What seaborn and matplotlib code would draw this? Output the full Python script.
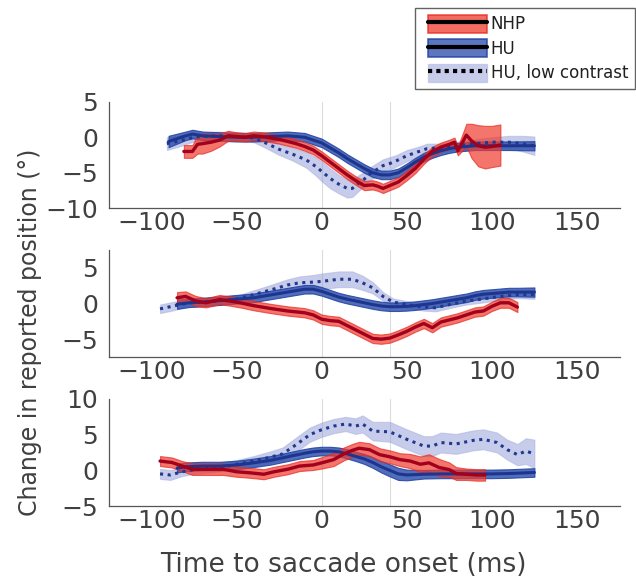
import numpy as np
import matplotlib
matplotlib.use("Agg")
import matplotlib.pyplot as plt
import matplotlib.patches as mpatches
import matplotlib.lines as mlines
from matplotlib.legend_handler import HandlerTuple
import seaborn as sns

# ---------------- data ----------------
x_ticks = [-100, -50, 0, 50, 100, 150]
series_labels = ["NHP", "HU", "HU, low contrast"]
xlabel = "Time to saccade onset (ms)"
ylabel = "Change in reported position (°)"

# Panel 1
t1_hu = [-90, -85, -80, -76, -70, -60, -50, -40, -30, -20, -10, 0, 5, 10, 15, 20, 25, 30, 35, 40,
         45, 50, 55, 60, 65, 70, 75, 80, 90, 100, 110, 125]
m1_hu = [-0.6, -0.2, 0.2, 0.45, 0.2, 0.1, 0.0, 0.0, 0.1, 0.2, 0.0, -0.8, -1.5, -2.2, -3.0, -3.7, -4.4,
         -5.0, -5.3, -5.3, -5.0, -4.3, -3.5, -2.8, -2.3, -1.9, -1.6, -1.4, -1.2, -1.2, -1.2, -1.2]
e1_hu = [0.8, 0.7, 0.6, 0.6, 0.6, 0.6, 0.6, 0.6, 0.6, 0.6, 0.6, 0.6, 0.6, 0.6, 0.6, 0.6, 0.6, 0.6,
         0.6, 0.6, 0.6, 0.6, 0.6, 0.6, 0.6, 0.6, 0.6, 0.6, 0.6, 0.6, 0.6, 0.65]

t1_nhp = [-81, -76, -73, -70, -65, -60, -55, -50, -45, -40, -35, -30, -25, -20, -15, -10, -5, 0, 5,
          10, 15, 20, 25, 30, 33, 36, 40, 45, 50, 55, 60, 65, 70, 75, 78, 80, 83, 85, 88, 92, 96, 100, 105]
m1_nhp = [-2.0, -2.0, -1.0, -0.9, -0.7, -0.4, 0.2, 0.1, 0.0, 0.2, 0.1, -0.1, -0.3, -0.6, -0.9, -1.3,
          -1.8, -2.6, -3.5, -4.4, -5.3, -6.1, -6.8, -6.7, -6.9, -7.2, -6.8, -6.3, -5.4, -4.4, -3.1,
          -2.0, -1.4, -1.0, -0.7, -1.9, -0.6, 0.3, -0.5, -1.2, -1.4, -1.3, -1.1]
e1_nhp = [0.9, 0.9, 1.3, 1.4, 1.2, 0.9, 0.7, 0.6, 0.6, 0.6, 0.6, 0.6, 0.6, 0.6, 0.6, 0.6, 0.6, 0.6,
          0.6, 0.6, 0.6, 0.6, 0.65, 0.65, 0.65, 0.65, 0.65, 0.65, 0.65, 0.65, 0.65, 0.65, 0.65, 0.65,
          0.65, 0.65, 1.2, 1.6, 2.4, 2.9, 3.0, 2.9, 2.9]

t1_lc = [-91, -85, -80, -75, -70, -60, -50, -40, -33, -25, -17, -9, -3, 0, 5, 10, 15, 18, 22, 25,
         28, 32, 36, 40, 44, 50, 56, 62, 70, 80, 90, 100, 110, 118, 125]
m1_lc = [-0.9, -0.6, -0.3, 0.0, 0.1, 0.2, 0.1, -0.1, -0.8, -1.7, -2.4, -3.2, -4.2, -4.8, -5.8, -6.6,
         -7.2, -7.2, -6.4, -5.9, -5.2, -4.6, -4.0, -3.7, -3.3, -2.6, -2.1, -1.6, -1.5, -1.2, -0.9,
         -0.7, -0.7, -0.9, -1.2]
e1_lc = [0.9, 0.8, 0.7, 0.6, 0.6, 0.6, 0.6, 0.6, 0.7, 0.8, 0.9, 1.1, 1.3, 1.4, 1.4, 1.3, 1.3, 1.2,
         1.1, 1.0, 0.9, 0.9, 0.9, 0.9, 0.8, 0.8, 0.7, 0.7, 0.6, 0.6, 0.6, 0.7, 0.9, 1.1, 1.3]

# Panel 2
t2_hu = [-85, -78, -70, -60, -50, -40, -30, -20, -10, -5, 0, 5, 10, 15, 20, 25, 30, 35, 40, 45, 50,
         55, 60, 65, 70, 75, 80, 85, 90, 95, 100, 105, 110, 115, 125]
m2_hu = [-0.1, 0.1, 0.2, 0.4, 0.6, 0.8, 1.2, 1.6, 2.0, 2.0, 1.7, 1.3, 0.9, 0.6, 0.35, 0.1, -0.15,
         -0.35, -0.45, -0.45, -0.4, -0.3, -0.15, 0.0, 0.2, 0.4, 0.6, 0.8, 1.1, 1.3, 1.4, 1.5, 1.6,
         1.6, 1.6]
e2_hu = [0.65, 0.6, 0.6, 0.6, 0.6, 0.6, 0.6, 0.6, 0.6, 0.6, 0.6, 0.6, 0.6, 0.6, 0.6, 0.6, 0.6, 0.6,
         0.6, 0.6, 0.6, 0.6, 0.6, 0.6, 0.6, 0.6, 0.6, 0.6, 0.6, 0.6, 0.6, 0.6, 0.6, 0.6, 0.65]

t2_nhp = [-85, -80, -74, -68, -60, -54, -48, -40, -30, -20, -10, -5, 0, 5, 10, 15, 20, 25, 30, 35,
          40, 45, 50, 55, 60, 65, 70, 75, 80, 85, 90, 95, 100, 105, 110, 115]
m2_nhp = [0.8, 1.0, 0.35, 0.1, 0.55, 0.35, 0.1, -0.3, -0.7, -1.05, -1.3, -1.6, -2.2, -2.4, -2.5,
          -3.1, -3.7, -4.3, -4.9, -5.0, -4.85, -4.4, -3.9, -3.3, -2.8, -3.4, -2.6, -2.3, -2.0, -1.6,
          -1.2, -1.05, -0.4, 0.1, 0.1, -0.5]
e2_nhp = [0.8, 0.7, 0.7, 0.65, 0.65, 0.65, 0.65, 0.65, 0.65, 0.65, 0.65, 0.65, 0.65, 0.65, 0.65,
          0.65, 0.65, 0.65, 0.65, 0.65, 0.65, 0.65, 0.65, 0.65, 0.65, 0.65, 0.65, 0.65, 0.65, 0.65,
          0.65, 0.65, 0.65, 0.7, 0.7, 0.7]

t2_lc = [-95, -88, -78, -70, -60, -50, -40, -30, -20, -13, -5, 0, 10, 18, 24, 30, 36, 42, 50, 60,
         67, 75, 85, 95, 105, 115, 125]
m2_lc = [-0.75, -0.4, 0.1, 0.2, 0.4, 0.6, 1.25, 1.9, 2.6, 2.9, 3.0, 3.1, 3.4, 3.4, 2.9, 2.2, 1.0,
         0.2, -0.15, -0.5, -0.6, -0.15, 0.35, 0.65, 1.0, 1.25, 1.25]
e2_lc = [0.6, 0.6, 0.5, 0.5, 0.5, 0.5, 0.6, 0.7, 0.8, 0.9, 1.0, 1.1, 1.1, 1.1, 1.0, 0.8, 0.6, 0.5,
         0.5, 0.5, 0.5, 0.5, 0.5, 0.5, 0.5, 0.5, 0.6]

# Panel 3
t3_hu = [-85, -80, -70, -60, -50, -40, -30, -20, -10, -5, 0, 5, 10, 15, 20, 25, 30, 35, 40, 45, 50,
         60, 70, 80, 90, 100, 110, 125]
m3_hu = [0.3, 0.5, 0.6, 0.6, 0.75, 1.05, 1.4, 1.9, 2.4, 2.6, 2.7, 2.7, 2.6, 2.3, 1.95, 1.6, 1.1,
         0.5, 0.0, -0.5, -0.65, -0.55, -0.5, -0.5, -0.5, -0.5, -0.45, -0.3]
e3_hu = [0.6, 0.6, 0.6, 0.6, 0.6, 0.6, 0.6, 0.6, 0.6, 0.6, 0.6, 0.6, 0.6, 0.65, 0.65, 0.7, 0.75,
         0.8, 0.85, 0.85, 0.75, 0.6, 0.6, 0.6, 0.6, 0.6, 0.6, 0.6]

t3_nhp = [-95, -88, -82, -76, -68, -58, -50, -42, -34, -28, -20, -13, -5, 0, 7, 13, 18, 22, 28, 34,
          40, 46, 52, 58, 63, 69, 75, 79, 85, 91, 96]
m3_nhp = [1.3, 1.1, 0.6, 0.15, 0.15, 0.15, -0.2, -0.35, -0.55, -0.2, 0.15, 0.6, 0.75, 1.05, 1.5,
          2.3, 2.8, 3.1, 2.9, 2.2, 1.9, 1.5, 1.3, 0.85, 1.05, 0.4, 0.1, -0.45, -0.55, -0.65, -0.65]
e3_nhp = [0.7, 0.7, 0.7, 0.8, 0.8, 0.8, 0.7, 0.7, 0.7, 0.7, 0.7, 0.7, 0.7, 0.8, 0.9, 0.9, 0.9, 0.9,
          0.9, 0.9, 0.9, 0.9, 1.0, 1.1, 1.2, 1.2, 1.0, 0.9, 0.8, 0.8, 0.8]

t3_lc = [-95, -89, -82, -75, -65, -55, -50, -40, -31, -23, -15, -7, 0, 7, 14, 20, 24, 30, 40, 50,
         60, 65, 70, 79, 89, 95, 103, 109, 115, 120, 125]
m3_lc = [-0.5, -0.65, -0.2, 0.1, 0.3, 0.6, 0.85, 1.3, 1.8, 2.3, 3.6, 5.0, 5.7, 6.2, 6.5, 6.2, 6.5,
         5.5, 5.4, 4.35, 3.4, 3.4, 3.9, 3.7, 4.2, 4.35, 3.9, 2.9, 2.2, 2.7, 2.3]
e3_lc = [0.7, 0.7, 0.6, 0.6, 0.6, 0.6, 0.6, 0.7, 0.8, 0.9, 1.0, 1.0, 1.0, 1.0, 1.0, 1.1, 1.2, 1.3,
         1.4, 1.4, 1.4, 1.4, 1.4, 1.4, 1.4, 1.4, 1.4, 1.4, 1.5, 1.8, 2.0]

panel_ylims = [(-10, 5), (-7.5, 7.5), (-5, 10)]
panel_yticks = [[-10, -5, 0, 5], [-5, 0, 5], [-5, 0, 5, 10]]
ref_lines = [0, 40]

# ---------------- style ----------------
sns.set_theme(style="white")
plt.rcParams["font.family"] = ["DejaVu Sans"]
TXT = "#404040"
SPINE = "#555555"

NHP_FILL, NHP_EDGE, NHP_LINE = "#EE3B2E", "#E8281E", "#A3001B"
HU_FILL, HU_EDGE, HU_LINE = "#3355B0", "#1E40A0", "#1E3590"
LC_FILL, LC_EDGE, LC_LINE = "#8F9AD6", "#A5AEE0", "#22388F"

W, H = 636, 582
fig = plt.figure(figsize=(W / 100, H / 100), dpi=100)
fig.patch.set_facecolor("white")

panels = [
    ((t1_lc, m1_lc, e1_lc), (t1_hu, m1_hu, e1_hu), (t1_nhp, m1_nhp, e1_nhp)),
    ((t2_lc, m2_lc, e2_lc), (t2_hu, m2_hu, e2_hu), (t2_nhp, m2_nhp, e2_nhp)),
    ((t3_lc, m3_lc, e3_lc), (t3_hu, m3_hu, e3_hu), (t3_nhp, m3_nhp, e3_nhp)),
]
tops_px = [101.7, 250, 399]
bots_px = [208.3, 357, 506]
left_px, right_px = 109, 619.5

styles = [
    dict(fill=LC_FILL, edge=LC_EDGE, alpha=0.5, line=LC_LINE, ls=(0, (1, 1.5)), lw=2.2),
    dict(fill=HU_FILL, edge=HU_EDGE, alpha=0.85, line=HU_LINE, ls="-", lw=2.2),
    dict(fill=NHP_FILL, edge=NHP_EDGE, alpha=0.7, line=NHP_LINE, ls="-", lw=2.4),
]

for i, series in enumerate(panels):
    pos = [left_px / W, 1 - bots_px[i] / H, (right_px - left_px) / W, (bots_px[i] - tops_px[i]) / H]
    ax = fig.add_axes(pos)
    ax.set_facecolor("white")
    for xv in ref_lines:
        ax.axvline(xv, color="#DCDCDC", lw=0.8, zorder=0)
    for (t, m, e), st in zip(series, styles):
        t = np.asarray(t, float)
        m = np.asarray(m, float)
        e = np.asarray(e, float)
        ax.fill_between(t, m - e, m + e, facecolor=st["fill"], edgecolor=st["edge"],
                        alpha=st["alpha"], lw=0.8, zorder=2)
        sns.lineplot(x=t, y=m, ax=ax, color=st["line"], lw=st["lw"], linestyle=st["ls"],
                     errorbar=None, legend=False, zorder=3)
    ax.set_xlim(-125, 175)
    ax.set_ylim(*panel_ylims[i])
    ax.set_xticks(x_ticks)
    ax.set_yticks(panel_yticks[i])
    ax.set_xlabel("")
    ax.set_ylabel("")
    for s in ["top", "right"]:
        ax.spines[s].set_visible(False)
    for s in ["left", "bottom"]:
        ax.spines[s].set_color(SPINE)
        ax.spines[s].set_linewidth(0.9)
    ax.tick_params(axis="both", direction="in", length=3.6, width=0.8, color=SPINE,
                   labelcolor=TXT, labelsize=18)
    ax.tick_params(axis="y", pad=8)
    ax.tick_params(axis="x", pad=2)

fig.text(343 / W, 1 - 565 / H, xlabel, ha="center", va="center", fontsize=19, color=TXT)
fig.text(30 / W, 1 - 332 / H, ylabel, ha="center", va="center", rotation=90, fontsize=17, color=TXT)

handles = [
    (mpatches.Patch(facecolor=NHP_FILL, edgecolor=NHP_EDGE, alpha=0.75, lw=1.2),
     mlines.Line2D([], [], color="black", lw=3)),
    (mpatches.Patch(facecolor=HU_FILL, edgecolor=HU_EDGE, alpha=0.8, lw=1.2),
     mlines.Line2D([], [], color="black", lw=3)),
    (mpatches.Patch(facecolor=LC_FILL, edgecolor=LC_EDGE, alpha=0.5, lw=1.0),
     mlines.Line2D([], [], color="black", lw=3, linestyle=(0, (1, 1)))),
]
leg = fig.legend(handles, series_labels, loc="upper right",
                 bbox_to_anchor=(635 / W, 1 - 8 / H), bbox_transform=fig.transFigure,
                 fontsize=12, handlelength=3.9, handleheight=1.3, labelspacing=0.35,
                 handletextpad=0.25, borderpad=0.4, borderaxespad=0, frameon=True,
                 fancybox=False, handler_map={tuple: HandlerTuple(ndivide=1, xpad=0.4)})
leg.get_frame().set_edgecolor("#3C3C3C")
leg.get_frame().set_linewidth(1.0)
for txt in leg.get_texts():
    txt.set_color("#202020")

fig.savefig("out.png", dpi=100, facecolor="white")
